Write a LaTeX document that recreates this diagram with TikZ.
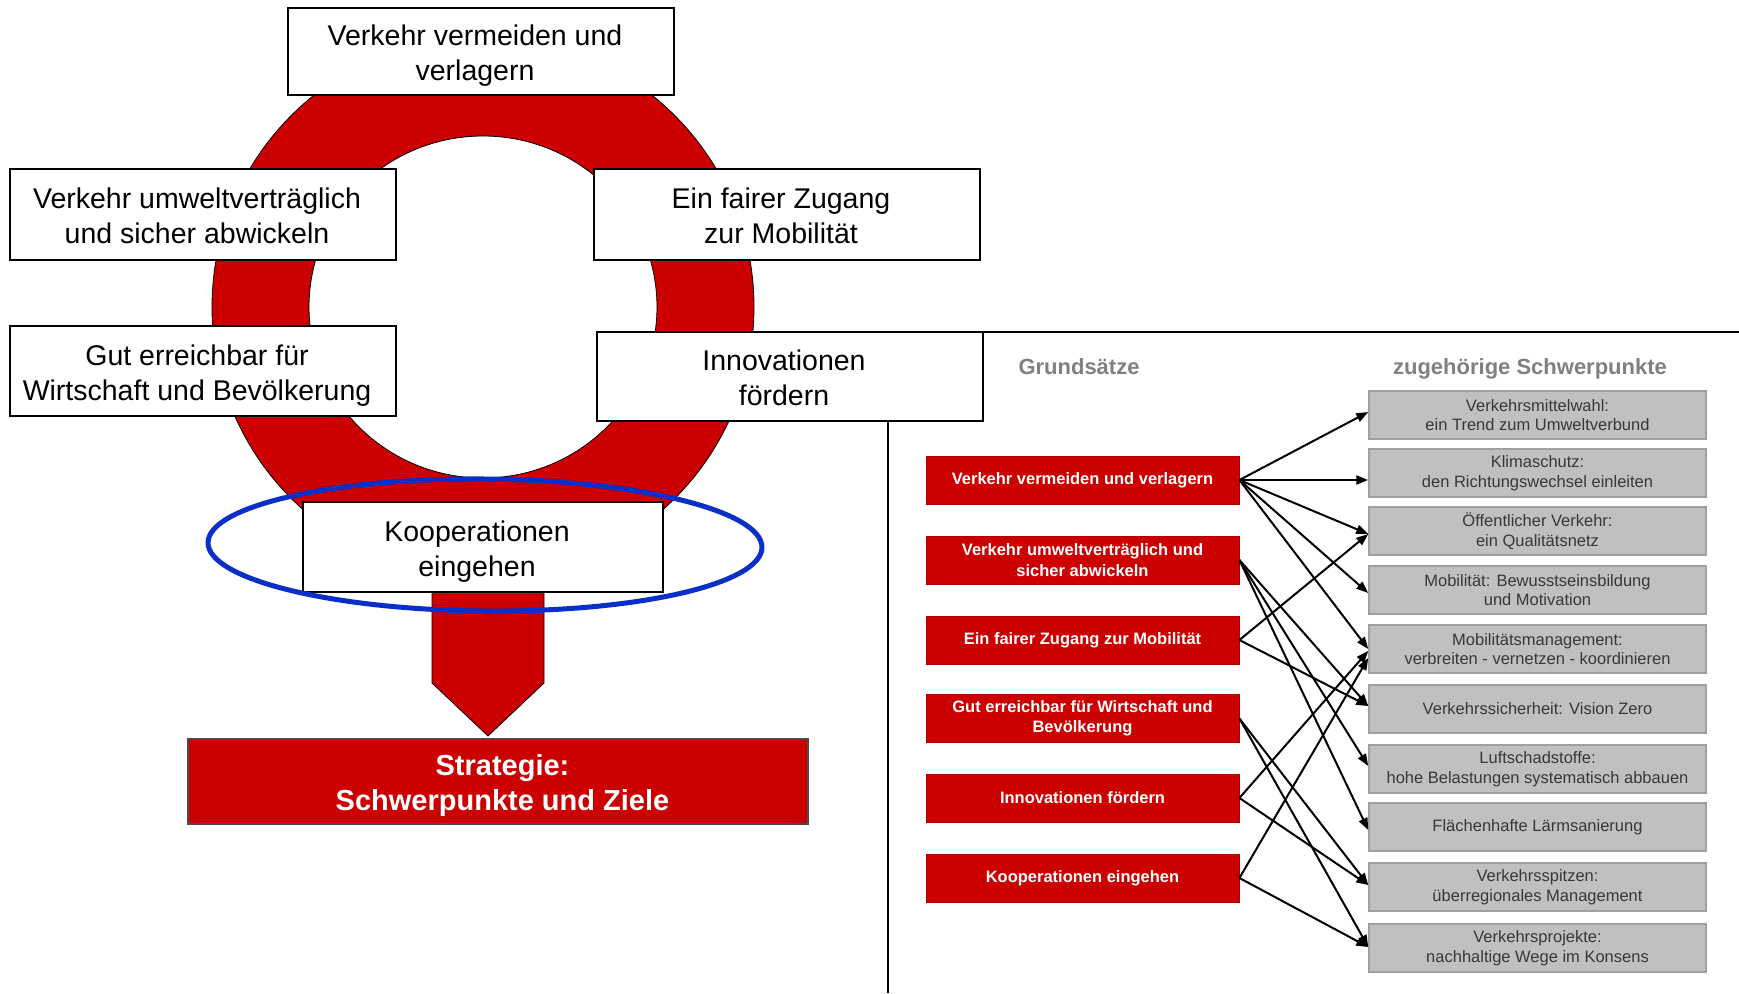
\documentclass[tikz,border=0pt]{standalone}
\usepackage{fontspec}
\setmainfont{Liberation Sans}
\usetikzlibrary{arrows.meta,calc}
\definecolor{ringred}{HTML}{CC0000}
\definecolor{boxgray}{HTML}{C0C0C0}
\definecolor{boxgrayline}{HTML}{A0A0A0}
\definecolor{graytext}{HTML}{383838}
\definecolor{headgray}{HTML}{808080}
\definecolor{ellblue}{HTML}{0A2FC8}
\newcommand{\mytopstrut}{\rule{0pt}{29pt}}
\newcommand{\mybotstrut}{\rule[-6pt]{0pt}{0pt}}
\newcommand{\myrs}{\hspace*{12pt}}
\newcommand{\myls}{\hspace*{9pt}}
\begin{document}
\begin{tikzpicture}[x=1pt,y=-1pt,
 bigbox/.style={draw=black, line width=1.2pt, fill=white, minimum width=386pt, minimum height=90pt, align=center, font=\fontsize{28.5}{35}\selectfont, inner sep=0pt},
 stratbox/.style={draw=black!70, line width=1.2pt, fill=ringred, text=white, minimum width=620pt, minimum height=85pt, align=center, font=\fontsize{29}{35}\selectfont\bfseries, inner sep=0pt},
 redbox/.style={draw=ringred!85!black, line width=0.8pt, fill=ringred, text=white, minimum width=313pt, minimum height=48pt, align=center, font=\fontsize{16.5}{20.5}\selectfont\bfseries, inner sep=0pt},
 graybox/.style={draw=boxgrayline, line width=1.5pt, fill=boxgray, text=graytext, minimum width=337pt, minimum height=48pt, align=center, font=\fontsize{16.5}{19.5}\selectfont, inner sep=0pt},
 link/.style={line width=2pt, -{Triangle[length=12pt,width=9pt]}},
 header/.style={text=headgray, font=\fontsize{22}{26}\selectfont\bfseries, anchor=base},
 frameline/.style={line width=1.3pt, draw=black}
]
\useasboundingbox (0,0) rectangle (1739,993);

% frame of the right panel
\coordinate (fbot) at (888,993);
\coordinate (fcorner) at (888,332);
\coordinate (fright) at (1739,332);
\draw[frameline] (fbot) -- (fcorner) -- (fright);

% arrow shaft below the ring
\path[fill=ringred, draw=black, line width=0.8pt] (432,585) -- (432,683) -- (488,736) -- (544,683) -- (544,585) -- cycle;
% red ring
\path[fill=ringred, draw=black, line width=0.8pt, even odd rule] (483,307) circle[radius=271pt] (483,307) ellipse[x radius=174pt, y radius=171pt];

% boxes on the ring
\node[bigbox, minimum height=87pt] (top) at (481,51.5) {\mytopstrut Verkehr vermeiden und\myrs\\verlagern\mybotstrut\myrs};
\node[bigbox, minimum height=91pt] (l1) at (203,214.5) {\mytopstrut Verkehr umweltverträglich\myrs\\und sicher abwickeln\mybotstrut\myrs};
\node[bigbox, minimum height=91pt] (r1) at (787,214.5) {\mytopstrut Ein fairer Zugang\myrs\\zur Mobilität\mybotstrut\myrs};
\node[bigbox] (l2) at (203,371) {\mytopstrut Gut erreichbar für\myrs\\Wirtschaft und Bevölkerung\mybotstrut\myrs};
\node[bigbox, minimum height=89pt] (r2) at (790,376.5) {\mytopstrut Innovationen\myrs\\fördern\mybotstrut\myrs};
\node[bigbox, minimum width=360pt] (koop) at (483,547) {\mytopstrut Kooperationen\myrs\\eingehen\mybotstrut\myrs};
\node[stratbox] (strat) at (498,781.5) {\myls\mytopstrut Strategie:\\\myls Schwerpunkte und Ziele\mybotstrut};

% blue highlight
\draw[ellblue, line width=5pt, rotate around={-0.5:(485,545)}] (485,545) ellipse[x radius=277pt, y radius=66pt];

% right panel
\node[header] (hg) at (1079,374) {Grundsätze};
\node[header] (hs) at (1530,374) {zugehörige Schwerpunkte};

\node[redbox] (a1) at (1082.5,480) {Verkehr vermeiden und verlagern};
\node[redbox] (a2) at (1082.5,560) {Verkehr umweltverträglich und\\sicher abwickeln};
\node[redbox] (a3) at (1082.5,640) {Ein fairer Zugang zur Mobilität};
\node[redbox] (a4) at (1082.5,718.5) {Gut erreichbar für Wirtschaft und\\Bevölkerung};
\node[redbox] (a5) at (1082.5,798) {Innovationen fördern};
\node[redbox] (a6) at (1082.5,878) {Kooperationen eingehen};

\node[graybox] (b1) at (1537.5,415) {Verkehrsmittelwahl:\\ein Trend zum Umweltverbund};
\node[graybox] (b2) at (1537.5,473) {Klimaschutz:\\den Richtungswechsel einleiten};
\node[graybox] (b3) at (1537.5,531) {Öffentlicher Verkehr:\\ein Qualitätsnetz};
\node[graybox] (b4) at (1537.5,590) {Mobilität: Bewusstseinsbildung\\und Motivation};
\node[graybox] (b5) at (1537.5,649) {Mobilitätsmanagement:\\verbreiten - vernetzen - koordinieren};
\node[graybox] (b6) at (1537.5,709) {Verkehrssicherheit: Vision Zero};
\node[graybox] (b7) at (1537.5,769) {Luftschadstoffe:\\hohe Belastungen systematisch abbauen};
\node[graybox] (b8) at (1537.5,827) {Flächenhafte Lärmsanierung};
\node[graybox] (b9) at (1537.5,887) {Verkehrsspitzen:\\überregionales Management};
\node[graybox] (b10) at (1537.5,948) {Verkehrsprojekte:\\nachhaltige Wege im Konsens};

% links
\draw[link] (a1.east) -- ($(b1.west)+(0,-3)$);
\draw[link] (a1.east) -- (a1.east -| b2.west);
\draw[link] (a1.east) -- ($(b3.west)+(0,3)$);
\draw[link] (a1.east) -- ($(b4.west)+(0,3)$);
\draw[link] (a1.east) -- (b5.west);
\draw[link] (a2.east) -- ($(b6.west)+(0,-3)$);
\draw[link] (a2.east) -- ($(b7.west)+(0,-3)$);
\draw[link] (a2.east) -- ($(b8.west)+(0,3)$);
\draw[link] (a3.east) -- ($(b3.west)+(0,3)$);
\draw[link] (a3.east) -- ($(b6.west)+(0,-3)$);
\draw[link] (a4.east) -- ($(b9.west)+(0,-2)$);
\draw[link] (a4.east) -- ($(b10.west)+(0,-1)$);
\draw[link] (a5.east) -- ($(b5.west)+(0,2)$);
\draw[link] (a5.east) -- ($(b9.west)+(0,-2)$);
\draw[link] (a6.east) -- ($(b5.west)+(0,9)$);
\draw[link] (a6.east) -- ($(b10.west)+(0,-1)$);
\end{tikzpicture}
\end{document}
